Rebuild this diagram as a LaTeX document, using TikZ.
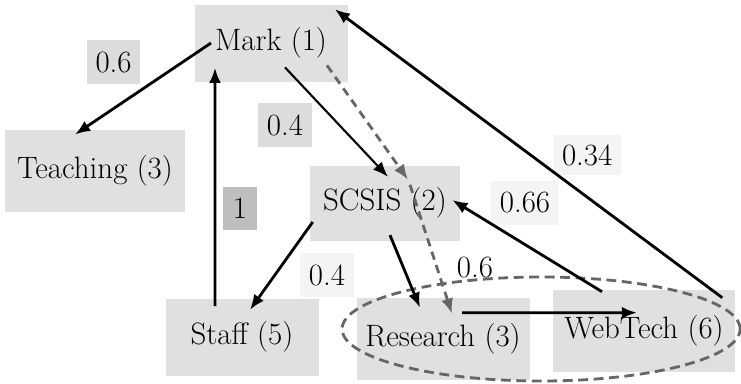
\documentclass[tikz,border=0pt]{standalone}
\usepackage{fontspec}
\usetikzlibrary{positioning, arrows.meta, shapes.geometric, calc}
\definecolor{unitgray}{HTML}{E0E0E0}
\definecolor{wgray}{HTML}{DCDCDC}
\definecolor{wdark}{HTML}{BEBEBE}
\definecolor{wpale}{HTML}{F4F4F4}
\definecolor{linegray}{HTML}{666666}

\begin{document}
\begin{tikzpicture}[
    >={Latex[length=0.38cm, width=0.3cm]},
    font=\rmfamily\fontsize{22}{26}\selectfont,
    dept/.style={
        fill=unitgray, rectangle, inner sep=0pt, align=center,
    },
    weight/.style={
        fill=wgray, rectangle, inner sep=0pt,
        minimum width=1.33cm, minimum height=1.1cm,
    },
    arrow/.style={->, line width=2pt, draw=black},
    dasharrow/.style={->, line width=2pt, draw=linegray, dash pattern=on 6pt off 4pt},
    group/.style={
        draw=linegray, line width=2pt, dash pattern=on 7pt off 4pt,
        ellipse, inner sep=0pt,
    },
]
\useasboundingbox (0,0) rectangle (18.525,-9.575);

% ===== Units =====
\node[dept, minimum width=3.825cm, minimum height=1.925cm] (mark)     at (6.775, -1.075)  {Mark (1)};
\node[dept, minimum width=4.5cm,   minimum height=2.05cm]  (teach)    at (2.375, -4.275)  {Teaching (3)};
\node[dept, minimum width=3.75cm,  minimum height=1.875cm] (scsis)    at (9.625, -5.075)  {SCSIS (2)};
\node[dept, minimum width=3.825cm, minimum height=1.925cm] (staff)    at (6.05, -8.425)   {Staff (5)};
\node[dept, minimum width=4.325cm, minimum height=2.05cm]  (research) at (11.075, -8.475)  {Research (3)};
\node[dept, minimum width=4.55cm,  minimum height=2.05cm]  (webtech)  at (16.1, -8.275)   {WebTech (6)};

% ===== Weights =====
\node[weight] (w06a) at (2.84, -1.56)   {0.6};
\node[weight] (w04a) at (7.125, -3.125) {0.4};
\node[weight, fill=wdark, minimum width=0.85cm, minimum height=1.075cm] (w1) at (6.0, -5.21) {1};
\node[weight, fill=wpale, minimum width=1.7cm, minimum height=1.0cm] (w034) at (14.68, -3.875) {0.34};
\node[weight, fill=wpale, minimum width=1.7cm] (w066) at (13.125, -5.075) {0.66};
\node[weight, fill=wpale] (w04b) at (8.175, -6.875) {0.4};
\node[weight, fill=none] (w06b) at (11.875, -6.7) {0.6};

% --- Research / WebTech group ---
\node[group, minimum width=9.95cm, minimum height=2.6cm] (rwgroup)
    at ($(research.center)!0.5!(webtech.center)+(-0.06,0.15)$) {};

% ===== Arrows =====
\draw[arrow] ([xshift=-1.5cm]mark.center) -- ([xshift=-0.5cm, yshift=-0.12cm]teach.north);
\draw[arrow] ([xshift=-0.675cm, yshift=-0.2cm]staff.north) -- ([xshift=-1.4cm, yshift=0.35cm]mark.south);
\draw[arrow, line width=1.5pt] ([xshift=0.35cm, yshift=0.36cm]mark.south) -- ([xshift=0.075cm, yshift=-0.29cm]scsis.north);
\draw[dasharrow] ([xshift=1.4cm, yshift=0.41cm]mark.south) -- ([xshift=0.575cm, yshift=-0.36cm]scsis.north);
\draw[dasharrow] ([xshift=0.625cm, yshift=-0.49cm]scsis.north) -- ([xshift=0.225cm, yshift=-0.4cm]research.north);
\draw[arrow] ([xshift=0.075cm, yshift=-0.475cm]scsis.west) -- ([xshift=0.2cm, yshift=-0.29cm]staff.north);
\draw[arrow] ([xshift=0.125cm, yshift=0.14cm]scsis.south) -- ([xshift=-0.575cm, yshift=-0.25cm]research.north);
\draw[arrow] ([xshift=-1.05cm, yshift=-0.05cm]webtech.north) -- ([xshift=-0.2cm, yshift=0.075cm]scsis.east);
\draw[arrow] ([xshift=-0.325cm, yshift=-0.2cm]webtech.north east) -- ([xshift=-0.325cm, yshift=-0.125cm]mark.north east);
\draw[arrow] ([xshift=0.475cm, yshift=-0.375cm]research.north) -- ([xshift=-0.175cm, yshift=-0.575cm]webtech.north);

\end{tikzpicture}
\end{document}
